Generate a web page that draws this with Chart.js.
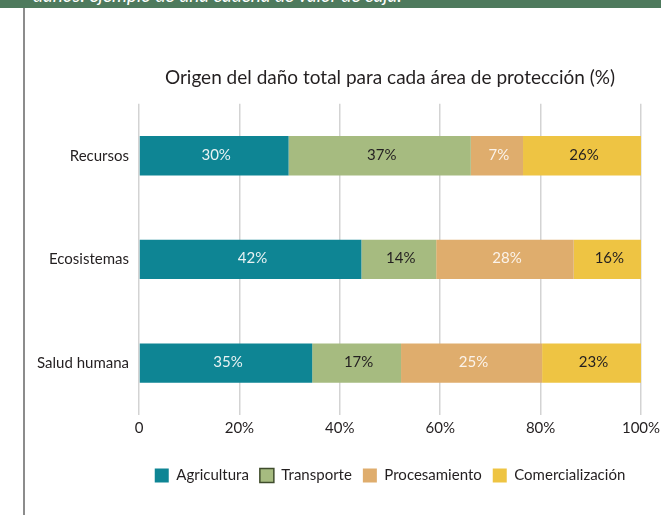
<!DOCTYPE html>
<html>
<head>
<meta charset="utf-8">
<script src="https://cdn.jsdelivr.net/npm/chart.js@4"></script>
<style>
  html, body { margin: 0; padding: 0; background: #fff; }
  #wrap { position: relative; width: 661px; height: 515px; overflow: hidden; }
  #chart { position: absolute; left: 0; top: 0; }
  #band { position: absolute; left: 0; top: 0; width: 661px; height: 8px; background: #4e7a5d; overflow: hidden; }
  #band span { position: absolute; left: 33px; top: -17px; color: #fff; font: italic 19px Lato, sans-serif; white-space: nowrap; }
  #edge { position: absolute; left: 23px; top: 8px; width: 2px; height: 507px; background: #8c8c8c; }
</style>
</head>
<body>
<div id="wrap">
  <canvas id="chart" width="661" height="515"></canvas>
  <div id="band"><span>daños: ejemplo de una cadena de valor de caja.</span></div>
  <div id="edge"></div>
</div>
<script>
// áreas de protección
const categories = ["Recursos", "Ecosistemas", "Salud humana"];

// largo de cada tramo tal como está dibujado (%)
const agricultura = [29.8, 44.3, 34.5];
const transporte = [36.3, 14.9, 17.7];
const procesamiento = [10.4, 27.4, 28.1];
const comercializacion = [23.5, 13.4, 19.7];

// porcentajes impresos dentro de las barras
const agriculturaTxt = [30, 42, 35];
const transporteTxt = [37, 14, 17];
const procesamientoTxt = [7, 28, 25];
const comercializacionTxt = [26, 16, 23];

const xTicks = [0, 20, 40, 60, 80, 100];

const FONT = "Lato, 'Open Sans', sans-serif";
const INK = "#231f20";

// texto dentro de cada tramo
const barLabels = {
  id: "barLabels",
  afterDatasetsDraw(chart) {
    const ctx = chart.ctx;
    ctx.save();
    ctx.font = "15px " + FONT;
    ctx.textAlign = "center";
    ctx.textBaseline = "middle";
    chart.data.datasets.forEach((ds, i) => {
      const meta = chart.getDatasetMeta(i);
      meta.data.forEach((bar, j) => {
        ctx.fillStyle = ds.labelColor;
        ctx.fillText(ds.texts[j] + "%", (bar.x + bar.base) / 2 + 2, bar.y - 1);
      });
    });
    ctx.restore();
  }
};

new Chart(document.getElementById("chart"), {
  type: "bar",
  data: {
    labels: categories,
    datasets: [
      { label: "Agricultura", data: agricultura, texts: agriculturaTxt, backgroundColor: "#0e8594", labelColor: "#e8f2f3" },
      { label: "Transporte", data: transporte, texts: transporteTxt, backgroundColor: "#a6bb80", labelColor: INK },
      { label: "Procesamiento", data: procesamiento, texts: procesamientoTxt, backgroundColor: "#dfad6d", labelColor: "#fbf3ea" },
      { label: "Comercialización", data: comercializacion, texts: comercializacionTxt, backgroundColor: "#eec443", labelColor: INK }
    ]
  },
  options: {
    indexAxis: "y",
    responsive: false,
    animation: false,
    borderWidth: 0,
    categoryPercentage: 0.38,
    barPercentage: 1,
    layout: { padding: { top: 66, right: 0, bottom: 22, left: 19 } },
    scales: {
      x: {
        stacked: true,
        min: 0,
        max: 100,
        afterBuildTicks(scale) { scale.ticks = xTicks.map(v => ({ value: v })); },
        afterFit(scale) {
          scale.height = 42;
          scale.paddingRight = 20;
        },
        border: { display: false },
        grid: { color: "#d3d3d3", lineWidth: 1.5, drawTicks: false },
        ticks: {
          padding: 4,
          color: INK,
          font: { family: FONT, size: 15 },
          callback: v => v === 0 ? "0" : v + "%"
        }
      },
      y: {
        stacked: true,
        afterFit(scale) { scale.width = 120; },
        border: { display: false },
        grid: { display: false, drawTicks: false },
        ticks: { padding: 10, color: INK, font: { family: FONT, size: 15 } }
      }
    },
    plugins: {
      tooltip: { enabled: false },
      title: {
        display: true,
        fullSize: false,
        text: "Origen del daño total para cada área de protección (%)",
        color: INK,
        font: { family: FONT, size: 19, weight: "normal" },
        padding: { top: 0, bottom: 15 }
      },
      legend: {
        position: "bottom",
        fullSize: false,
        labels: {
          boxWidth: 14,
          boxHeight: 14,
          padding: 11,
          color: INK,
          font: { family: FONT, size: 15 },
          generateLabels(chart) {
            const items = Chart.defaults.plugins.legend.labels.generateLabels(chart);
            items.forEach(it => {
              if (it.text === "Transporte") {
                it.strokeStyle = "#3f4c2c";
                it.lineWidth = 1.5;
              } else {
                it.lineWidth = 0;
              }
            });
            return items;
          }
        }
      }
    }
  },
  plugins: [barLabels]
});
</script>
</body>
</html>
